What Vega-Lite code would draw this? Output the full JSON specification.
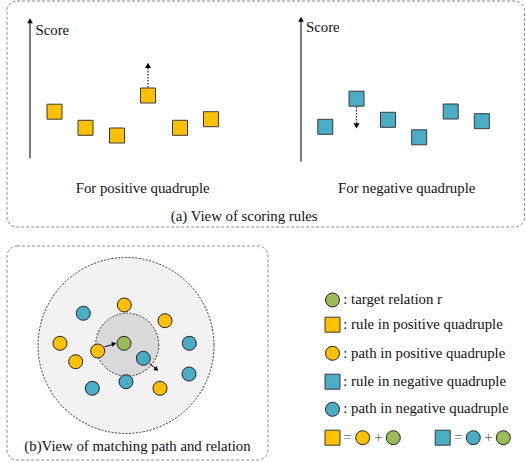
{
  "$schema": "https://vega.github.io/schema/vega-lite/v6.json",
  "width": 526,
  "height": 463,
  "autosize": {"type": "none"},
  "padding": 0,
  "background": "white",
  "config": {"view": {"stroke": null}, "text": {"font": "Times New Roman, Liberation Serif, DejaVu Serif, serif"}},
  "encoding": {
    "x": {"field": "x", "type": "quantitative", "scale": {"domain": [0, 526], "nice": false, "zero": false}, "axis": null},
    "y": {"field": "y", "type": "quantitative", "scale": {"domain": [0, 463], "nice": false, "zero": false, "reverse": true}, "axis": null}
  },
  "layer": [
    {
      "data": {"values": [
        {"panel": "a", "x": 7, "x2": 524.5, "y": 1, "y2": 227},
        {"panel": "b", "x": 7, "x2": 268, "y": 246, "y2": 460}
      ]},
      "mark": {"type": "rect", "fill": "white", "stroke": "#8a8a8a", "strokeWidth": 1, "strokeDash": [3, 2], "cornerRadius": 10},
      "encoding": {"x2": {"field": "x2"}, "y2": {"field": "y2"}}
    },
    {
      "data": {"values": [{"ring": "outer", "x": 126, "y": 345.5}]},
      "mark": {"type": "point", "shape": "circle", "filled": true, "opacity": 1, "size": 30976, "fill": "#F2F2F2", "stroke": "#333333", "strokeWidth": 1, "strokeDash": [2, 1.5]}
    },
    {
      "data": {"values": [{"ring": "inner", "x": 127.2, "y": 344.7}]},
      "mark": {"type": "point", "shape": "circle", "filled": true, "opacity": 1, "size": 3969, "fill": "#D9D9D9", "stroke": "#333333", "strokeWidth": 1, "strokeDash": [2, 1.5]}
    },
    {
      "data": {"values": [
        {"axis": "pos", "x": 30, "y": 158.3, "y2": 21},
        {"axis": "neg", "x": 301, "y": 161.7, "y2": 19.5}
      ]},
      "mark": {"type": "rule", "color": "#222222", "strokeWidth": 1.2},
      "encoding": {"y2": {"field": "y2"}}
    },
    {
      "data": {"values": [
        {"axis": "pos", "x": 30, "y": 20.8},
        {"axis": "neg", "x": 301, "y": 19.2}
      ]},
      "mark": {"type": "point", "shape": "triangle-up", "filled": true, "opacity": 1, "size": 32, "color": "black"}
    },
    {
      "data": {"values": [
        {"dir": "up", "x": 148, "y": 87.5, "y2": 67},
        {"dir": "down", "x": 356.5, "y": 107, "y2": 124}
      ]},
      "mark": {"type": "rule", "color": "#333333", "strokeWidth": 1.3, "strokeDash": [1.5, 1.5]},
      "encoding": {"y2": {"field": "y2"}}
    },
    {
      "data": {"values": [
        {"dir": "up", "x": 148, "y": 65.3},
        {"dir": "down", "x": 356.5, "y": 125.8}
      ]},
      "mark": {"type": "point", "filled": true, "opacity": 1, "size": 36, "color": "black"},
      "encoding": {"shape": {"field": "dir", "type": "nominal", "scale": {"domain": ["up", "down"], "range": ["triangle-up", "triangle-down"]}, "legend": null}}
    },
    {
      "data": {"values": [
        {"kind": "pos", "x": 54.5, "y": 111.7},
        {"kind": "pos", "x": 85.5, "y": 127.8},
        {"kind": "pos", "x": 117, "y": 135.5},
        {"kind": "pos", "x": 148, "y": 95.5},
        {"kind": "pos", "x": 180, "y": 127.8},
        {"kind": "pos", "x": 211, "y": 119.2},
        {"kind": "neg", "x": 325.3, "y": 126.8},
        {"kind": "neg", "x": 356.5, "y": 98.7},
        {"kind": "neg", "x": 388, "y": 119.8},
        {"kind": "neg", "x": 419.2, "y": 137.3},
        {"kind": "neg", "x": 450.7, "y": 111.5},
        {"kind": "neg", "x": 481.8, "y": 121.2},
        {"kind": "pos", "x": 332.5, "y": 324.7},
        {"kind": "neg", "x": 332.5, "y": 381.7},
        {"kind": "pos", "x": 332.5, "y": 437.7},
        {"kind": "neg", "x": 442.7, "y": 437.7}
      ]},
      "mark": {"type": "point", "shape": "square", "filled": true, "opacity": 1, "size": 225, "stroke": "#3a3a3a", "strokeWidth": 1},
      "encoding": {"color": {"field": "kind", "type": "nominal", "scale": {"domain": ["pos", "neg", "target"], "range": ["#FFC000", "#4BACC6", "#9BBB59"]}, "legend": null}}
    },
    {
      "data": {"values": [
        {"kind": "pos", "x": 124.3, "y": 305},
        {"kind": "pos", "x": 165, "y": 320.7},
        {"kind": "pos", "x": 60, "y": 343.3},
        {"kind": "pos", "x": 97.7, "y": 351},
        {"kind": "pos", "x": 75.7, "y": 361.7},
        {"kind": "pos", "x": 160, "y": 388.3},
        {"kind": "neg", "x": 83.3, "y": 313.3},
        {"kind": "neg", "x": 189.3, "y": 343.3},
        {"kind": "neg", "x": 143.3, "y": 358.3},
        {"kind": "neg", "x": 189, "y": 374},
        {"kind": "neg", "x": 126, "y": 381.7},
        {"kind": "neg", "x": 92.3, "y": 388.3},
        {"kind": "target", "x": 124, "y": 343.3},
        {"kind": "target", "x": 332.5, "y": 300},
        {"kind": "pos", "x": 332.5, "y": 353.3},
        {"kind": "neg", "x": 332.5, "y": 409.3},
        {"kind": "pos", "x": 362.7, "y": 437.7},
        {"kind": "target", "x": 393.3, "y": 437.7},
        {"kind": "neg", "x": 473.3, "y": 437.7},
        {"kind": "target", "x": 503.3, "y": 437.7}
      ]},
      "mark": {"type": "point", "shape": "circle", "filled": true, "opacity": 1, "size": 196, "stroke": "#222222", "strokeWidth": 1},
      "encoding": {"color": {"field": "kind", "type": "nominal", "scale": {"domain": ["pos", "neg", "target"], "range": ["#FFC000", "#4BACC6", "#9BBB59"]}, "legend": null}}
    },
    {
      "data": {"values": [
        {"arrow": "path-pos", "x": 104.5, "y": 346.8, "x2": 113.5, "y2": 344.3},
        {"arrow": "path-neg", "x": 149.5, "y": 363.5, "x2": 155.5, "y2": 368.5}
      ]},
      "mark": {"type": "rule", "color": "black", "strokeWidth": 1},
      "encoding": {"x2": {"field": "x2"}, "y2": {"field": "y2"}}
    },
    {
      "data": {"values": [{"arrow": "path-pos", "x": 114, "y": 343.8}]},
      "mark": {"type": "point", "shape": "triangle-right", "filled": true, "opacity": 1, "size": 26, "color": "black", "angle": -12}
    },
    {
      "data": {"values": [{"arrow": "path-neg", "x": 156.6, "y": 369.3}]},
      "mark": {"type": "point", "shape": "triangle-right", "filled": true, "opacity": 1, "size": 26, "color": "black", "angle": 39}
    },
    {
      "data": {"values": [
        {"label": "Score", "x": 35.5, "y": 35},
        {"label": "Score", "x": 306, "y": 32.3},
        {"label": ": target relation r", "x": 343.3, "y": 304.2},
        {"label": ": rule in positive quadruple", "x": 343.3, "y": 329},
        {"label": ": path in positive quadruple", "x": 343.3, "y": 357.5},
        {"label": ": rule in negative quadruple", "x": 343.3, "y": 386},
        {"label": ": path in negative quadruple", "x": 343.3, "y": 413.3}
      ]},
      "mark": {"type": "text", "align": "left", "baseline": "alphabetic", "font": "Times New Roman, Liberation Serif, DejaVu Serif, serif", "fontSize": 14.8, "color": "#111111"},
      "encoding": {"text": {"field": "label"}}
    },
    {
      "data": {"values": [
        {"label": "For positive quadruple", "x": 142.7, "y": 192.7},
        {"label": "For negative quadruple", "x": 406.7, "y": 192.7},
        {"label": "(a) View of scoring rules", "x": 244.2, "y": 221},
        {"label": "(b)View of matching path and relation", "x": 137.5, "y": 450.5}
      ]},
      "mark": {"type": "text", "align": "center", "baseline": "alphabetic", "font": "Times New Roman, Liberation Serif, DejaVu Serif, serif", "fontSize": 14.8, "color": "#111111"},
      "encoding": {"text": {"field": "label"}}
    },
    {
      "data": {"values": [
        {"label": "=", "x": 347.3, "y": 442},
        {"label": "+", "x": 378.3, "y": 442},
        {"label": "=", "x": 458.3, "y": 442},
        {"label": "+", "x": 488.3, "y": 442}
      ]},
      "mark": {"type": "text", "align": "center", "baseline": "alphabetic", "font": "Times New Roman, Liberation Serif, DejaVu Serif, serif", "fontSize": 14.8, "color": "#666666"},
      "encoding": {"text": {"field": "label"}}
    }
  ]
}
